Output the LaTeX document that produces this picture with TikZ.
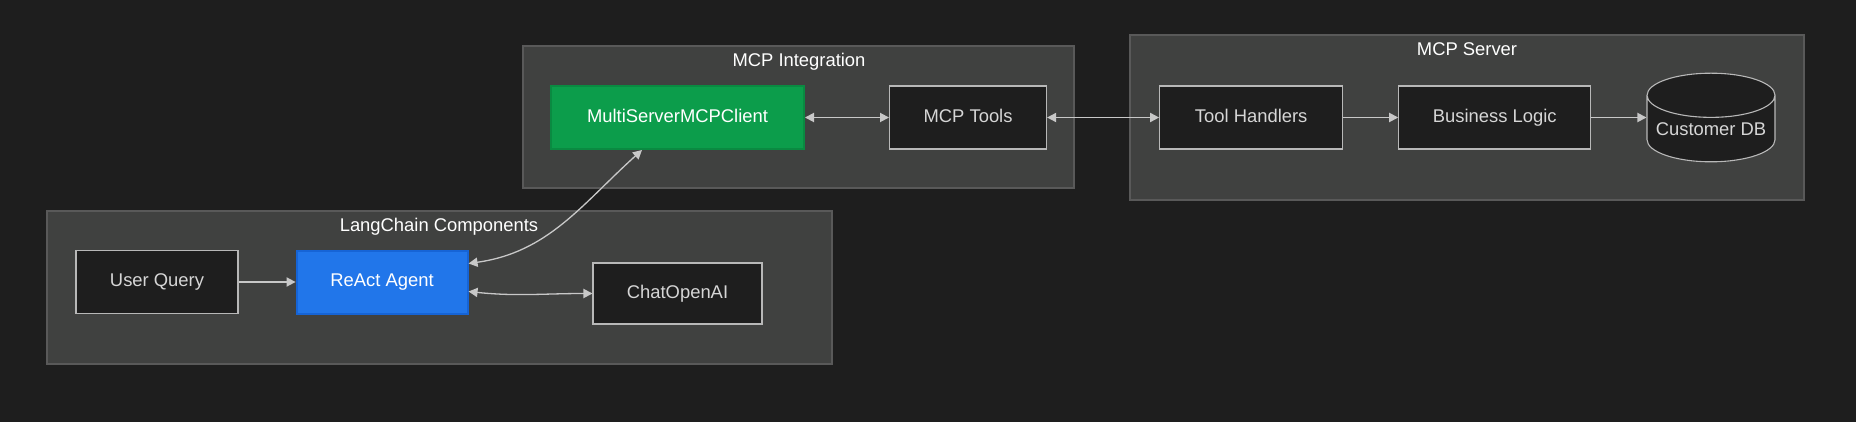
\documentclass[tikz,border=0pt]{standalone}
\usepackage{fontspec}
\setmainfont{Liberation Sans}
\usepackage{tikz}
\usetikzlibrary{positioning,shapes.geometric,arrows.meta}

\definecolor{bgcolor}{HTML}{1E1E1E}
\definecolor{clusterfill}{HTML}{404140}
\definecolor{clusterline}{HTML}{595959}
\definecolor{nodefill}{HTML}{1E1E1E}
\definecolor{nodeline}{HTML}{B8B8B8}
\definecolor{nodetext}{HTML}{D6D6D6}
\definecolor{edgecolor}{HTML}{C8C8C8}
\definecolor{clientgreen}{HTML}{0C9D4B}
\definecolor{clientline}{HTML}{0A8A41}
\definecolor{agentblue}{HTML}{2176EA}
\definecolor{agentline}{HTML}{1664D6}

\begin{document}
\begin{tikzpicture}[x=0.5pt,y=-0.5pt,node distance=28.5pt,
    font=\fontsize{9.2}{11}\selectfont,
    >={Triangle[length=4.5pt,width=4.6pt]}]
\tikzstyle{box}=[draw=nodeline,fill=nodefill,text=nodetext,line width=0.55pt,
    minimum height=31.5pt,inner sep=0pt,text height=6.6pt,text depth=1.9pt]
\tikzstyle{cluster}=[draw=clusterline,fill=clusterfill,line width=0.55pt]
\tikzstyle{title}=[text=white,text height=6.6pt,text depth=1.9pt]
\tikzstyle{link}=[color=edgecolor,line width=0.65pt]
\fill[bgcolor] (0,0) rectangle (1856,422);
\useasboundingbox (0,0) rectangle (1856,422);
% subgraphs
\draw[cluster] (47,211) rectangle (832,364);
\draw[cluster] (523,46) rectangle (1074,188);
\draw[cluster] (1130,35) rectangle (1804,200);
\node[title] (langtitle) at (439,227) {LangChain Components};
\node[title] (integtitle) at (799,62) {MCP Integration};
\node[title] (servertitle) at (1467,51) {MCP Server};
% LangChain
\node[box,minimum width=81pt] (query) at (157,282) {User Query};
\node[box,minimum width=85.5pt,fill=agentblue,draw=agentline,line width=1pt,text=white,
    right=of query] (agent) {ReAct Agent};
\node[box,minimum width=84.5pt,minimum height=30.5pt] (chat) at (677.5,293.5) {ChatOpenAI};
% MCP side
\node[box,minimum width=126.5pt,fill=clientgreen,draw=clientline,line width=1pt,text=white]
    (client) at (677.5,117.5) {MultiServerMCPClient};
\node[box,minimum width=78.5pt,right=42pt of client] (tools) {MCP Tools};
\node[box,minimum width=91.5pt,right=56pt of tools] (handlers) {Tool Handlers};
\node[box,minimum width=96pt,right=27.5pt of handlers] (logic) {Business Logic};
\node[box,cylinder,shape border rotate=90,aspect=0.4,minimum width=64pt,
    minimum height=43pt,anchor=shape center,text height=9pt,text depth=1.9pt]
    (db) at (1711,117.5) {Customer DB};
% connections
\path[link]
    (query) edge[->] (agent)
    (client) edge[<->] (tools)
    (tools) edge[<->] (handlers)
    (handlers) edge[->] (logic)
    (logic) edge[->] (db.west |- logic.east);
\draw[link,<->] ([yshift=9.25pt]agent.east) to[out=8,in=-138] ([xshift=-17.75pt]client.south);
\draw[link,<->] ([yshift=-4.75pt]agent.east) to[out=-6,in=180] (chat.west);
\end{tikzpicture}
\end{document}
